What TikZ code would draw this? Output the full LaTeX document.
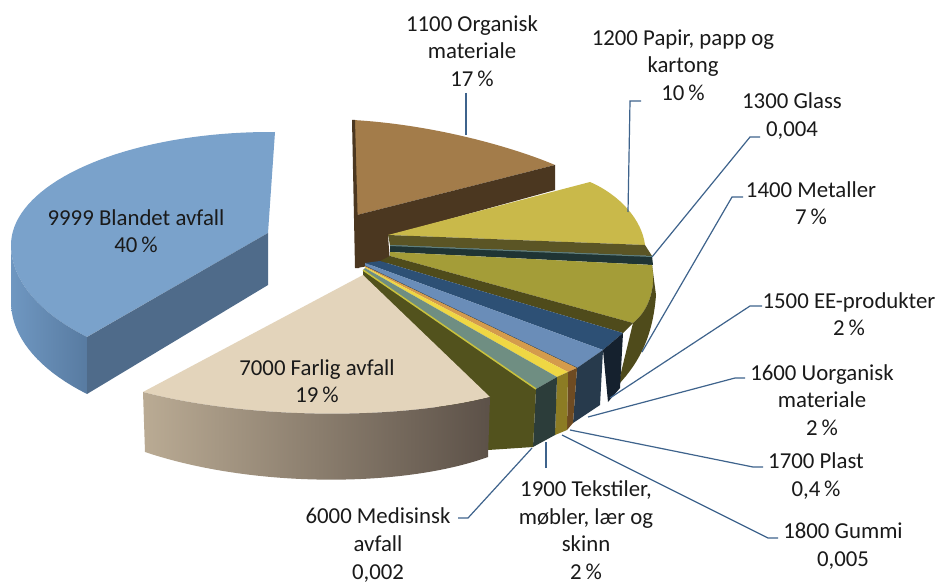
\documentclass[tikz,border=0pt]{standalone}
\usepackage{fontspec}
\setmainfont{Carlito}
\definecolor{bluetop}{HTML}{7AA2CB}
\definecolor{bluerad}{HTML}{4F6B8A}
\definecolor{bluewallL}{HTML}{6F97C1}
\definecolor{bluewallR}{HTML}{587BA1}
\definecolor{browntop}{HTML}{A37C4A}
\definecolor{brownwall}{HTML}{4B3720}
\definecolor{papirtop}{HTML}{C9B94A}
\definecolor{papirwall}{HTML}{5B5525}
\definecolor{glasstop}{HTML}{5F7F7C}
\definecolor{glasswall}{HTML}{1F3434}
\definecolor{mettop}{HTML}{A49D38}
\definecolor{metwall}{HTML}{4F4B1B}
\definecolor{eetop}{HTML}{2D5075}
\definecolor{eeblock}{HTML}{15212E}
\definecolor{uotop}{HTML}{6A8DB8}
\definecolor{uoblock}{HTML}{273A4C}
\definecolor{pltop}{HTML}{D49B4C}
\definecolor{plblock}{HTML}{6E4B22}
\definecolor{gutop}{HTML}{EFD744}
\definecolor{gublock}{HTML}{8C7C24}
\definecolor{tetop}{HTML}{6F8E82}
\definecolor{teblock}{HTML}{2C3D3A}
\definecolor{meline}{HTML}{C9C23E}
\definecolor{mewall}{HTML}{52521D}
\definecolor{beigetop}{HTML}{E3D4BB}
\definecolor{beigeL}{HTML}{BAAB94}
\definecolor{beigeR}{HTML}{5C5148}
\definecolor{leader}{HTML}{3E638C}
\definecolor{txt}{HTML}{1A1A1A}
\newcommand\lblfont{\fontsize{22.8}{27.6}\selectfont}
\begin{document}
\begin{tikzpicture}[x=1pt,y=-1pt,
  lbl/.style={font=\lblfont, align=center, inner sep=0pt, text=txt},
  lead/.style={draw=leader, line width=1.2pt}]
\fill[white] (0,0) rectangle (941,585);
\path[use as bounding box] (0,0) rectangle (941,585);

% ---- 9999 Blandet avfall (blue) ----
\fill[bluetop] (268,233) -- (275,132)
  -- plot[domain=-89:-180,samples=40,variable=\t] ({270+259*cos(\t)},{245+113*sin(\t)})
  -- plot[domain=180:135,samples=20,variable=\t] ({270+259*cos(\t)},{245+130*sin(\t)})
  -- cycle;
\shade[left color=bluewallL, right color=bluewallR]
  plot[domain=180:135,samples=20,variable=\t] ({270+259*cos(\t)},{245+130*sin(\t)})
  -- plot[domain=135:180,samples=20,variable=\t] ({270+259*cos(\t)},{302+130*sin(\t)})
  -- cycle;
\fill[bluerad] (268,233) -- (87,337) -- (87,394) -- (268,285) -- cycle;

% ---- 1100 Organisk (brown) ----
\fill[browntop] (353,120) .. controls (440,125) and (520,150) .. (555,165) -- (357,215) -- cycle;
\fill[brownwall] (357,215) -- (555,165) -- (555,190) -- (388,236) -- (390,262) -- (357,268) -- cycle;
\fill[brownwall] (352,120) -- (355,120) -- (359,268) -- (355,268) -- cycle;

% ---- 1200 Papir ----
\fill[papirtop] (388,235) -- (590,182) .. controls (620,195) and (642,220) .. (645,245) -- cycle;
\fill[papirwall] (388,235) -- (645,245) -- (652,256) -- (390,245) -- cycle;

% ---- 1300 Glass ----
\fill[glasswall] (390,245) -- (652,256) -- (653,265) -- (390,252) -- cycle;
\draw[glasstop, line width=1pt] (390,245.5) -- (652,256.5);

% ---- 1400 Metaller ----
\fill[mettop] (390,252) -- (652,265) .. controls (656,285) and (650,310) .. (633,323) -- (390,256) -- cycle;
\fill[metwall] (652,265) .. controls (656,285) and (650,310) .. (633,323) -- (618,385)
  .. controls (640,362) and (653,335) .. (656,295) -- cycle;
\fill[metwall] (390,256) -- (633,323) -- (623,333) -- (380,261) -- cycle;

% ---- 1500 EE-produkter ----
\fill[eetop] (380,261) -- (623,333) -- (603,350) -- (365,263) -- cycle;
\fill[eeblock] (603,350) -- (623,333) -- (620,388) -- (608,402) -- cycle;

% ---- 1600 Uorganisk ----
\fill[uotop] (365,263) -- (603,350) -- (577,368) -- (365,266) -- cycle;
\fill[uoblock] (577,368) -- (603,350) -- (600,405) -- (573,423) -- cycle;
\draw[uoblock, line width=0.8pt] (365,266) -- (577,368);

% ---- 1700 Plast ----
\fill[pltop] (365,266) -- (577,368) -- (568,372) -- (365,267) -- cycle;
\fill[plblock] (568,372) -- (577,368) -- (573,423) -- (567,430) -- cycle;

% ---- 1800 Gummi ----
\fill[gutop] (365,267) -- (568,372) -- (557,377) -- (365,268) -- cycle;
\fill[gublock] (557,377) -- (568,372) -- (567,430) -- (555,435) -- cycle;

% ---- 1900 Tekstiler ----
\fill[tetop] (365,268) -- (557,377) -- (536,389) -- (363,270) -- cycle;
\fill[teblock] (536,389) -- (557,377) -- (555,435) -- (533,447) -- cycle;

% ---- 6000 Medisinsk ----
\fill[mewall] (363,270) -- (536,389) -- (533,447) -- (488,450) -- (363,340) -- cycle;
\draw[meline, line width=1.5pt] (363,270) -- (536,389);

% ---- 7000 Farlig avfall (beige) ----
\fill[beigetop] (363,275) -- (143,392) .. controls (250,420) and (400,420) .. (490,397) -- cycle;
\shade[left color=beigeL, right color=beigeR] (143,392) .. controls (250,420) and (400,420) .. (490,397)
  -- (488,457) .. controls (402,488) and (252,488) .. (145,452) -- cycle;

% ---- labels ----
\node[lbl] (lBla) at (136,231) {9999 Blandet avfall\\40\,\%};
\node[lbl] (lFar) at (317,381) {7000 Farlig avfall\\19\,\%};
\node[lbl] (lOrg) at (472,51) {1100 Organisk\\materiale\\17\,\%};
\node[lbl] (lPap) at (683,65) {1200 Papir, papp og\\kartong\\10\,\%};
\node[lbl] (lGla) at (792,116) {1300 Glass\\0,004};
\node[lbl] (lMet) at (811,203) {1400 Metaller\\7\,\%};
\node[lbl] (lEE)  at (849,314) {1500 EE-produkter\\2\,\%};
\node[lbl] (lUor) at (822,400) {1600 Uorganisk\\materiale\\2\,\%};
\node[lbl] (lPla) at (816,476) {1700 Plast\\0,4\,\%};
\node[lbl] (lGum) at (843,546) {1800 Gummi\\0,005};
\node[lbl] (lTek) at (586,530) {1900 Tekstiler,\\møbler, lær og\\skinn\\2\,\%};
\node[lbl] (lMed) at (378,545) {6000 Medisinsk\\avfall\\0,002};

% ---- leader lines ----
\coordinate (sOrg) at (466,93);  \coordinate (eOrg) at (466,135);
\coordinate (sPap) at (641,101); \coordinate (kPap) at (630,101); \coordinate (ePap) at (628,212);
\coordinate (sGla) at (760,137); \coordinate (kGla) at (750,137); \coordinate (eGla) at (652,257);
\coordinate (sMet) at (743,197); \coordinate (kMet) at (732,197); \coordinate (eMet) at (642,352);
\coordinate (sEE)  at (762,306); \coordinate (kEE)  at (750,306); \coordinate (eEE)  at (610,398);
\coordinate (sUor) at (745,378); \coordinate (kUor) at (735,378); \coordinate (eUor) at (588,417);
\coordinate (sPla) at (763,467); \coordinate (kPla) at (753,467); \coordinate (ePla) at (570,430);
\coordinate (sGum) at (778,538); \coordinate (kGum) at (768,538); \coordinate (eGum) at (562,435);
\coordinate (sTek) at (546,468); \coordinate (eTek) at (546,442);
\coordinate (sMed) at (458,518); \coordinate (kMed) at (468,518); \coordinate (eMed) at (532,448);
\draw[lead] (sOrg) -- (eOrg);
\draw[lead] (sPap) -- (kPap) -- (ePap);
\draw[lead] (sGla) -- (kGla) -- (eGla);
\draw[lead] (sMet) -- (kMet) -- (eMet);
\draw[lead] (sEE) -- (kEE) -- (eEE);
\draw[lead] (sUor) -- (kUor) -- (eUor);
\draw[lead] (sPla) -- (kPla) -- (ePla);
\draw[lead] (sGum) -- (kGum) -- (eGum);
\draw[lead] (sTek) -- (eTek);
\draw[lead] (sMed) -- (kMed) -- (eMed);
\end{tikzpicture}
\end{document}
